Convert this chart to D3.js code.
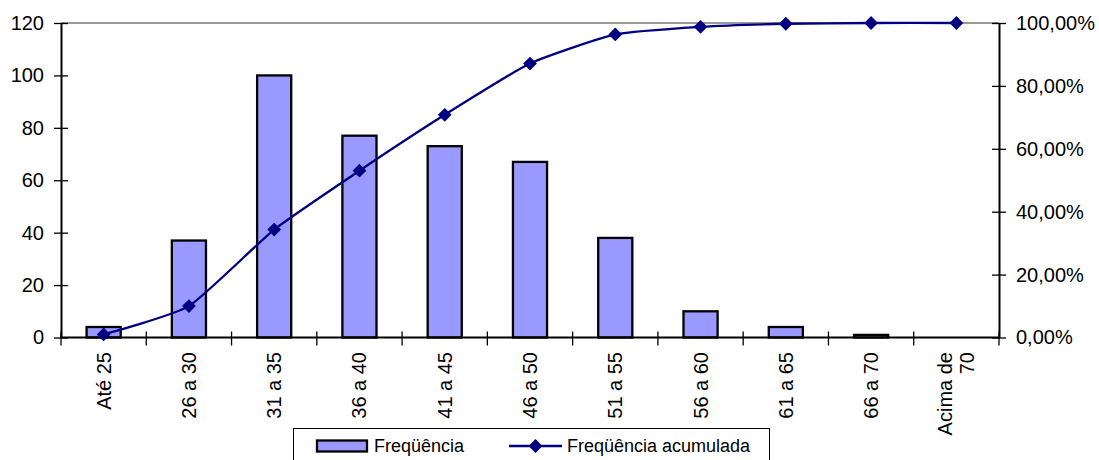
<!DOCTYPE html>
<html><head><meta charset="utf-8">
<script src="https://cdn.jsdelivr.net/npm/d3@7"></script>
<style>body{margin:0;background:#fff}svg{display:block;font-family:"Liberation Sans",Arial,sans-serif}</style>
</head><body><svg id="c" width="1099" height="460"></svg>
<script>
const categories = ["Até 25","26 a 30","31 a 35","36 a 40","41 a 45","46 a 50","51 a 55","56 a 60","61 a 65","66 a 70","Acima de 70"];
const frequencia = [4,37,100,77,73,67,38,10,4,1,0];
const acumulada = [0.97,9.98,34.31,53.04,70.80,87.10,96.35,98.78,99.76,100,100];
const leftTicks = [0,20,40,60,80,100,120];
const rightTicks = [0,20,40,60,80,100];
const legendLabels = ["Freqüência","Freqüência acumulada"];

const svg = d3.select("#c");
const L=61, R=999, T=23, B=337.5;
const x = d3.scaleBand().domain(categories).range([L,R]).paddingInner(0.6).paddingOuter(0.3);
const xb = d3.scaleBand().domain(categories).range([L,R]);
const y = d3.scaleLinear().domain([0,120]).range([B,T]);
const y2 = d3.scaleLinear().domain([0,100]).range([B,T]);

svg.append("line").attr("x1",L).attr("x2",R).attr("y1",T).attr("y2",T).attr("stroke","#999").attr("stroke-width",2);

svg.selectAll("rect.bar").data(frequencia).join("rect").attr("class","bar")
  .attr("x",(d,i)=>x(categories[i])).attr("width",x.bandwidth())
  .attr("y",d=>y(d)).attr("height",d=>B-y(d))
  .attr("fill","#9999FF").attr("stroke","#000").attr("stroke-width",2.3)
  .attr("display",d=>d>0?null:"none");

const fs = "20px";
const gl = svg.append("g").attr("transform",`translate(${L},0)`)
  .call(d3.axisLeft(y).tickValues(leftTicks).tickSizeInner(7).tickSizeOuter(0).tickPadding(10));
gl.selectAll(".tick line").attr("x2",7).attr("x1",-7);
const gr = svg.append("g").attr("transform",`translate(${R},0)`)
  .call(d3.axisRight(y2).tickValues(rightTicks).tickSizeInner(7).tickSizeOuter(0).tickPadding(10)
  .tickFormat(d=>d.toFixed(2).replace(".",",")+"%"));
gr.selectAll(".tick line").attr("x1",-7).attr("x2",7);
[gl,gr].forEach(g=>{g.select(".domain").attr("stroke","#000").attr("stroke-width",2);
  g.selectAll(".tick line").attr("stroke","#000").attr("stroke-width",1.3);
  g.selectAll("text").attr("font-size",fs).attr("fill","#000").attr("font-family","Liberation Sans, Arial, sans-serif");});

svg.append("line").attr("x1",L).attr("x2",R).attr("y1",B).attr("y2",B).attr("stroke","#000").attr("stroke-width",2);
const bounds = categories.map(c=>xb(c)).concat([R]);
svg.selectAll("line.xt").data(bounds).join("line").attr("class","xt")
  .attr("x1",d=>d).attr("x2",d=>d).attr("y1",B-6).attr("y2",B+8).attr("stroke","#000").attr("stroke-width",1.3);

categories.forEach(c=>{
  const cx = xb(c)+xb.bandwidth()/2;
  const words = c==="Acima de 70" ? ["Acima de","70"] : [c];
  const t = svg.append("text").attr("transform",`translate(${cx},352) rotate(-90)`)
    .attr("text-anchor","end").attr("font-size",fs).attr("fill","#000");
  words.forEach((w,k)=>{
    t.append("tspan").attr("x",0).attr("dy", k===0 ? (words.length>1? "-0.2em":"0.35em") : "1.1em").text(w);
  });
});

const px = (d,i)=>xb(categories[i])+xb.bandwidth()/2;
svg.append("path").datum(acumulada)
  .attr("d",d3.line().x(px).y(d=>y2(d)).curve(d3.curveCardinal.tension(0.5)))
  .attr("fill","none").attr("stroke","#000080").attr("stroke-width",2.3);
const diamond = d3.symbol().type(d3.symbolSquare).size(95);
svg.selectAll("path.m").data(acumulada).join("path").attr("class","m")
  .attr("d",diamond()).attr("fill","#000080")
  .attr("transform",(d,i)=>`translate(${px(d,i)},${y2(d)}) rotate(45)`);

const lg = svg.append("g");
lg.append("rect").attr("x",293.5).attr("y",428.5).attr("width",476).attr("height",40).attr("fill","#fff").attr("stroke","#000").attr("stroke-width",1);
lg.append("rect").attr("x",317).attr("y",440.5).attr("width",50).attr("height",11).attr("fill","#9999FF").attr("stroke","#000").attr("stroke-width",2.3);
lg.append("text").attr("x",374).attr("y",452).attr("font-size","18px").text(legendLabels[0]);
lg.append("line").attr("x1",509).attr("x2",562).attr("y1",446).attr("y2",446).attr("stroke","#000080").attr("stroke-width",2.3);
lg.append("path").attr("d",diamond()).attr("fill","#000080").attr("transform","translate(535.5,446) rotate(45)");
lg.append("text").attr("x",567).attr("y",452).attr("font-size","18px").text(legendLabels[1]);
</script></body></html>
